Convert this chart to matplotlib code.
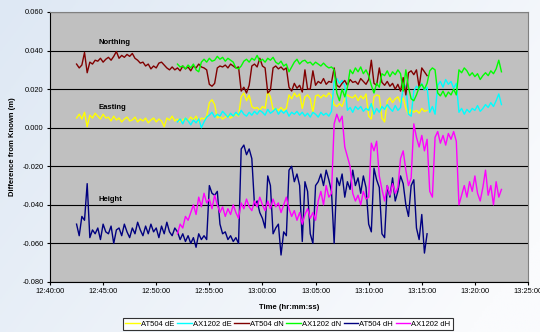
import numpy as np
import matplotlib.pyplot as plt
from matplotlib.ticker import FixedLocator, FuncFormatter

plt.rcParams['font.family'] = ['Liberation Sans', 'DejaVu Sans']

# time in minutes after 12:40:00, one value read every 15 s
step = 0.25
at504_start = 2.5
ax1202_start = 12.0

# differences from known, in mm
at504_dE = [5, 7, 4.5, 8, 0.5, 6.5, 5, 7.5, 6, 4.5, 7, 5, 5.5, 3.5, 6, 4,
            5, 3, 4.5, 5.5, 3.5, 4, 5.5, 3, 4.5, 3.5, 5, 2.5, 4, 5, 3, 4.5,
            3.5, 0.5, 5, 4, 6, 3.5, 4.5, 3, 4, 5, 3.5, 5.5, 4, 6, 3, 5,
            4.5, 6, 13, 14.5, 12, 5, 6, 4.5, 5.5, 6.5, 5, 6, 7, 6, 16, 18,
            14, 17, 11, 10, 10.5, 9, 11, 10, 19, 16, 9.5, 10, 9, 10.5, 9, 10,
            17, 15, 18, 16, 17.5, 10, 16, 17, 15, 8, 16.5, 17, 15.5, 17, 16, 18,
            16.5, 12, 11, 12.5, 11, 15, 17, 16, 15.5, 17, 14, 16.5, 15, 17.5, 6, 4.5,
            16, 17, 16.5, 5, 3, 14, 15.5, 13, 15, 16, 13, 15.5, 10, 7, 9.5, 8,
            9, 7.5, 10, 8.5, 9]

at504_dN = [33, 31, 32.5, 39, 28.5, 34, 33, 35, 34.5, 36, 34, 35.5, 36.5, 35, 37, 39.5,
            36, 37.5, 36.5, 38, 37, 38.5, 36, 35, 33.5, 34, 32, 33, 30.5, 32, 31, 33.5,
            34, 32.5, 31, 30, 31.5, 30, 31, 29.5, 32, 30.5, 31.5, 29.5, 32, 31, 33, 31.5,
            31, 30, 22.5, 21.5, 23, 31, 32, 31.5, 32.5, 31, 33, 32, 31, 31.5, 19, 21,
            18, 22, 32, 33, 31.5, 36, 32, 31, 18, 19.5, 31, 32, 30.5, 31.5, 30, 31,
            21, 19, 23, 20.5, 22, 18.5, 30, 20, 20, 29.5, 22, 24, 23, 25.5, 22.5, 24,
            23.5, 31, 22, 21, 23, 24.5, 22, 25, 23.5, 24, 22.5, 25.5, 24, 22.5, 25, 35,
            23, 22, 31, 23.5, 22, 24, 21.5, 23, 20, 22.5, 19, 26, 17, 28.5, 29.5, 27.5,
            30, 21, 31, 29, 27]

at504_dH = [-50, -56, -46, -48, -29, -57, -53, -55, -52, -58, -50, -54, -55, -51, -60, -53,
            -52, -56, -50, -54, -57, -52, -55, -49, -53, -56, -51, -55, -50, -54, -52, -57,
            -51, -55, -49, -54, -56, -52, -54, -58, -55, -59, -56, -60, -57, -62, -55, -58,
            -56, -58, -30, -34, -35, -33, -50, -55, -54, -58, -56, -59, -57, -60, -11, -9,
            -14, -11, -16, -40, -38, -44, -47, -52, -25, -30, -55, -52, -50, -66, -54, -56,
            -22, -20, -28, -24, -30, -59, -28, -33, -55, -60, -30, -28, -24, -30, -22, -27,
            -33, -60, -26, -30, -24, -36, -28, -32, -22, -30, -26, -34, -25, -31, -50, -54,
            -21, -27, -31, -55, -57, -30, -36, -26, -38, -33, -25, -29, -40, -46, -30, -27,
            -52, -58, -45, -65, -55]

ax1202_dE = [3, 4.5, 2, 5, 3.5, 1.5, 4, 2.5, 4.5, 0, 3, 5.5, 6.5, 8, 5.5, 7,
             6, 8.5, 7, 5.5, 7.5, 6, 8, 6.5, 9, 7, 6, 8, 6.5, 8.5, 7, 9,
             8, 6.5, 9.5, 7.5, 8.5, 10, 7, 9, 7.5, 9, 6, 8, 7, 8.5, 6.5, 8,
             6, 7.5, 5.5, 8, 7, 5.5, 8, 6.5, 7.5, 6, 8.5, 24, 25.5, 23, 24.5, 22,
             9, 10.5, 8, 11, 9.5, 11, 8.5, 10, 9, 12.5, 7, 10, 8, 11, 9.5, 12,
             10, 8.5, 11.5, 9, 10.5, 21, 22, 7, 6, 19, 21.5, 20, 23, 19.5, 21, 8,
             11, 7, 22, 24, 21, 25, 22.5, 24, 20.5, 23, 8, 10, 7, 9.5, 8, 10,
             9, 11.5, 8.5, 10, 12, 10.5, 13, 11, 14, 17.5, 12]

ax1202_dN = [33, 31.5, 32, 30.5, 32.5, 31, 33, 30, 29, 34, 35.5, 34, 36, 34.5, 35, 37,
             35.5, 36.5, 34.5, 36, 35, 34, 31, 30.5, 32, 34.5, 35.5, 34, 36, 35, 37.5, 34.5,
             35.5, 34, 36, 35, 36.5, 34, 33, 34.5, 32, 33, 29, 31.5, 34, 35.5, 33, 34.5,
             35, 33.5, 34, 32.5, 34, 33, 32, 33.5, 32, 31, 31.5, 30, 18, 14, 20, 16,
             21, 30, 28, 31, 29, 31.5, 28, 30, 27, 22, 18, 23, 21, 28, 27, 29.5,
             26.5, 29, 27.5, 30, 28, 19, 30, 21, 15, 14, 17, 21, 22.5, 20, 23, 29.5,
             31, 30, 18, 16.5, 19, 16, 18.5, 17, 20, 17, 30, 28.5, 31, 29.5, 27, 28.5,
             26.5, 28, 25, 27, 28.5, 27, 29.5, 28, 30.5, 35, 29]

ax1202_dH = [-55, -50, -52, -46, -48, -44, -40, -45, -36, -41, -34, -39, -37, -42, -35, -40,
             -44, -41, -46, -42, -45, -40, -44, -47, -39, -42, -37, -41, -43, -38, -41, -36,
             -40, -43, -38, -42, -37, -41, -39, -44, -40, -36, -42, -46, -43, -48, -44, -50,
             -45, -42, -47, -44, -48, -38, -33, -40, -30, -36, -34, 2, 7, 3, 6, -10,
             -15, -20, -34, -38, -35, -40, -33, -37, -36, -8, -12, -7, -25, -32, -38, -30,
             -35, -29, -34, -31, -16, -12, -22, -30, -26, 2, -5, -10, -4, -12, -6, -33,
             -36, -5, -2, -8, -4, -9, -3, -6, -2, -7, -40, -35, -30, -36, -28, -33,
             -25, -34, -38, -31, -22, -35, -30, -40, -28, -36, -32]

series = [
    ("AT504 dE", at504_start, at504_dE, "#ffff00"),
    ("AX1202 dE", ax1202_start, ax1202_dE, "#00ffff"),
    ("AT504 dN", at504_start, at504_dN, "#800000"),
    ("AX1202 dN", ax1202_start, ax1202_dN, "#00ff00"),
    ("AT504 dH", at504_start, at504_dH, "#000080"),
    ("AX1202 dH", ax1202_start, ax1202_dH, "#ff00ff"),
]

fig = plt.figure(figsize=(5.4, 3.32), dpi=100)

# light blue background wash
bg = fig.add_axes([0, 0, 1, 1])
gx = np.linspace(0, 1, 200)
gy = np.linspace(0, 1, 120)
GX, GY = np.meshgrid(gx, gy)
mix = np.clip(0.75 * GX + 0.35 * GY, 0, 1)[..., None]
c0 = np.array([222, 232, 244]) / 255
c1 = np.array([250, 251, 253]) / 255
bg.imshow(c0 * (1 - mix) + c1 * mix, aspect='auto', extent=[0, 1, 0, 1])
bg.axis('off')

ax = fig.add_axes([50 / 540, 50 / 332, 478 / 540, 270 / 332])
ax.set_facecolor('#c0c0c0')

for name, start, vals, col in series:
    t = start + step * np.arange(len(vals))
    ax.plot(t, np.array(vals) / 1000, color=col, lw=1.0, label=name)

ax.set_xlim(0, 45)
ax.set_ylim(-0.08, 0.06)
ax.yaxis.set_major_locator(FixedLocator(np.arange(-0.08, 0.0601, 0.02)))
ax.yaxis.set_major_formatter(FuncFormatter(lambda v, p: "%.3f" % v))
ax.xaxis.set_major_locator(FixedLocator(np.arange(0, 45.1, 5)))
ax.xaxis.set_major_formatter(FuncFormatter(
    lambda m, p: "%d:%02d:00" % (12 + (40 + int(m)) // 60, (40 + int(m)) % 60)))
ax.grid(axis='y', color='black', lw=0.8)
ax.set_axisbelow(True)
ax.tick_params(labelsize=5.4, length=2.5, width=0.8, pad=2)
for s in ['top', 'right']:
    ax.spines[s].set_color('#808080')
for s in ['left', 'bottom']:
    ax.spines[s].set_color('black')

ax.set_xlabel("Time (hr:mm:ss)", fontsize=5.5, fontweight='bold', labelpad=6)
ax.set_ylabel("Difference from Known (m)", fontsize=5.5, fontweight='bold', labelpad=5)

ax.text(4.6, 0.0442, "Northing", fontsize=5.5, fontweight='bold', va='center')
ax.text(4.6, 0.0104, "Easting", fontsize=5.5, fontweight='bold', va='center')
ax.text(4.6, -0.0374, "Height", fontsize=5.5, fontweight='bold', va='center')

leg = fig.legend(loc='center', bbox_to_anchor=(288 / 540, 8 / 332), ncol=6,
                 fontsize=5.5, frameon=True, fancybox=False, handlelength=1.9,
                 handletextpad=0.15, columnspacing=0.35, borderpad=0.25,
                 borderaxespad=0)
leg.get_frame().set_edgecolor('black')
leg.get_frame().set_linewidth(0.8)
for h in leg.get_lines():
    h.set_linewidth(1.0)

fig.savefig("out.png", dpi=100)
